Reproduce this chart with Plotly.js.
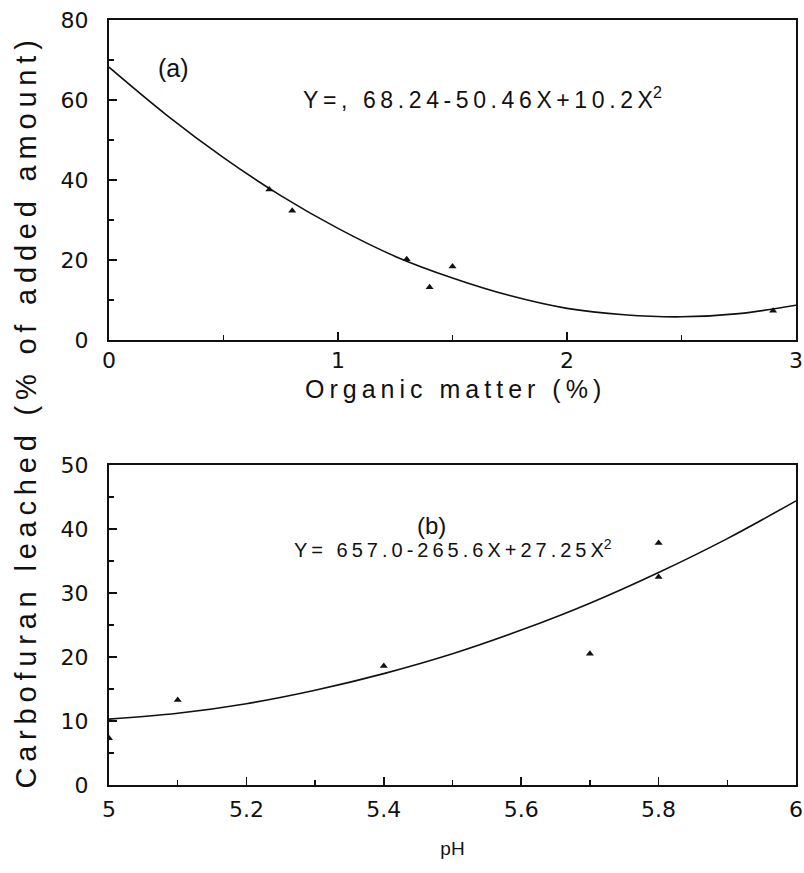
<!DOCTYPE html>
<html>
<head>
<meta charset="utf-8">
<script src="https://cdn.plot.ly/plotly-3.0.1.min.js"></script>
<style>html,body{margin:0;padding:0;background:#fff;}</style>
</head>
<body>
<div id="chart" style="width:804px;height:873px;"></div>
<script>
// Panel (a): organic matter
const omPointsX = [0.7, 0.8, 1.3, 1.4, 1.5, 2.9];
const omPointsY = [37.6, 32.3, 20.2, 13.2, 18.4, 7.3];
const omCurveX = [0, 0.25, 0.5, 0.75, 1.0, 1.25, 1.5, 1.75, 2.0, 2.25, 2.5, 2.75, 3.0];
const omCurveY = [68.2, 56.3, 45.6, 36.1, 27.9, 20.9, 15.5, 11.1, 7.9, 6.3, 5.8, 6.6, 8.7];
// Panel (b): pH
const phPointsX = [5.0, 5.1, 5.4, 5.7, 5.8, 5.8];
const phPointsY = [7.3, 13.3, 18.6, 20.5, 37.8, 32.5];
const phCurveX = [5.0, 5.1, 5.2, 5.3, 5.4, 5.5, 5.6, 5.7, 5.8, 5.9, 6.0];
const phCurveY = [10.3, 11.2, 12.7, 14.8, 17.4, 20.5, 24.2, 28.4, 33.2, 38.5, 44.4];
const omTicks = [0, 1, 2, 3];
const phTicks = [5, 5.2, 5.4, 5.6, 5.8, 6];
const omYTicks = [0, 20, 40, 60, 80];
const phYTicks = [0, 10, 20, 30, 40, 50];

// insert a thin gap between letters (letter-spacing imitation)
function spaced(s, sep) { return Array.from(s).join(sep); }
const THIN = '\u2009';

const tickFont = {family: 'DejaVu Sans', size: 22, color: '#111'};

const traces = [
  {x: omCurveX, y: omCurveY, mode: 'lines', line: {color: '#111', width: 1.6, shape: 'spline'}, xaxis: 'x', yaxis: 'y', hoverinfo: 'skip'},
  {x: omPointsX, y: omPointsY, mode: 'markers', marker: {symbol: 'triangle-up', size: 7, color: '#111'}, xaxis: 'x', yaxis: 'y'},
  {x: phCurveX, y: phCurveY, mode: 'lines', line: {color: '#111', width: 1.6, shape: 'spline'}, xaxis: 'x2', yaxis: 'y2', hoverinfo: 'skip'},
  {x: phPointsX, y: phPointsY, mode: 'markers', marker: {symbol: 'triangle-up', size: 7, color: '#111'}, xaxis: 'x2', yaxis: 'y2'}
];

const axisCommon = {
  showgrid: false, zeroline: false, showline: true, mirror: true,
  linecolor: '#111', linewidth: 2, ticks: 'inside', ticklen: 8, tickwidth: 1.5,
  tickcolor: '#111', tickfont: tickFont
};

const layout = {
  width: 804, height: 873,
  margin: {l: 109, r: 8, t: 20, b: 88},
  paper_bgcolor: '#fff', plot_bgcolor: '#fff',
  showlegend: false,
  xaxis: Object.assign({}, axisCommon, {
    domain: [0, 1], range: [0, 3], tickvals: omTicks, ticktext: omTicks.map(String),
    minor: {ticks: 'inside', dtick: 0.5, ticklen: 5, tickcolor: '#111'},
    anchor: 'y', ticklabelstandoff: 0
  }),
  yaxis: Object.assign({}, axisCommon, {
    domain: [0.5817, 1], range: [0, 80], tickvals: omYTicks, ticktext: omYTicks.map(String),
    minor: {ticks: 'inside', dtick: 10, ticklen: 5, tickcolor: '#111'},
    anchor: 'x', ticklabelstandoff: 14
  }),
  xaxis2: Object.assign({}, axisCommon, {
    domain: [0, 1], range: [5, 6], tickvals: phTicks, ticktext: phTicks.map(String),
    minor: {ticks: 'inside', dtick: 0.1, ticklen: 5, tickcolor: '#111'},
    anchor: 'y2', ticklabelstandoff: 4,
    title: {text: 'pH', font: {family: 'Liberation Sans', size: 19, color: '#111'}, standoff: 20}
  }),
  yaxis2: Object.assign({}, axisCommon, {
    domain: [0, 0.4183], range: [0, 50], tickvals: phYTicks, ticktext: phYTicks.map(String),
    minor: {ticks: 'inside', dtick: 5, ticklen: 5, tickcolor: '#111'},
    anchor: 'x2', ticklabelstandoff: 14
  }),
  annotations: [
    {text: spaced('Carbofuran leached (% of added amount)', THIN), xref: 'paper', yref: 'paper', x: -0.121, y: 0.484,
     textangle: -90, showarrow: false, font: {family: 'Liberation Sans', size: 29, color: '#111'}, xanchor: 'center', yanchor: 'middle'},
    {text: spaced('Organic matter (%)', THIN), xref: 'paper', yref: 'paper', x: 0.5, y: 0.518, showarrow: false,
     xanchor: 'center', yanchor: 'middle', font: {family: 'Liberation Sans', size: 25, color: '#111'}},
    {text: '(a)', xref: 'x', yref: 'y', x: 0.28, y: 68, showarrow: false, font: {family: 'Liberation Sans', size: 25, color: '#111'}},
    {text: spaced('Y=, 68.24-50.46X+10.2X', THIN) + '<sup>2</sup>', xref: 'x', yref: 'y', x: 1.63, y: 60.5, showarrow: false,
     font: {family: 'Liberation Sans', size: 23, color: '#111'}},
    {text: '(b)', xref: 'x2', yref: 'y2', x: 5.47, y: 40.5, showarrow: false, font: {family: 'Liberation Sans', size: 24, color: '#111'}},
    {text: spaced('Y= 657.0-265.6X+27.25X', THIN) + '<sup>2</sup>', xref: 'x2', yref: 'y2', x: 5.5, y: 37, showarrow: false,
     font: {family: 'Liberation Sans', size: 20, color: '#111'}}
  ]
};

Plotly.newPlot('chart', traces, layout, {displayModeBar: false, staticPlot: true});
</script>
</body>
</html>
